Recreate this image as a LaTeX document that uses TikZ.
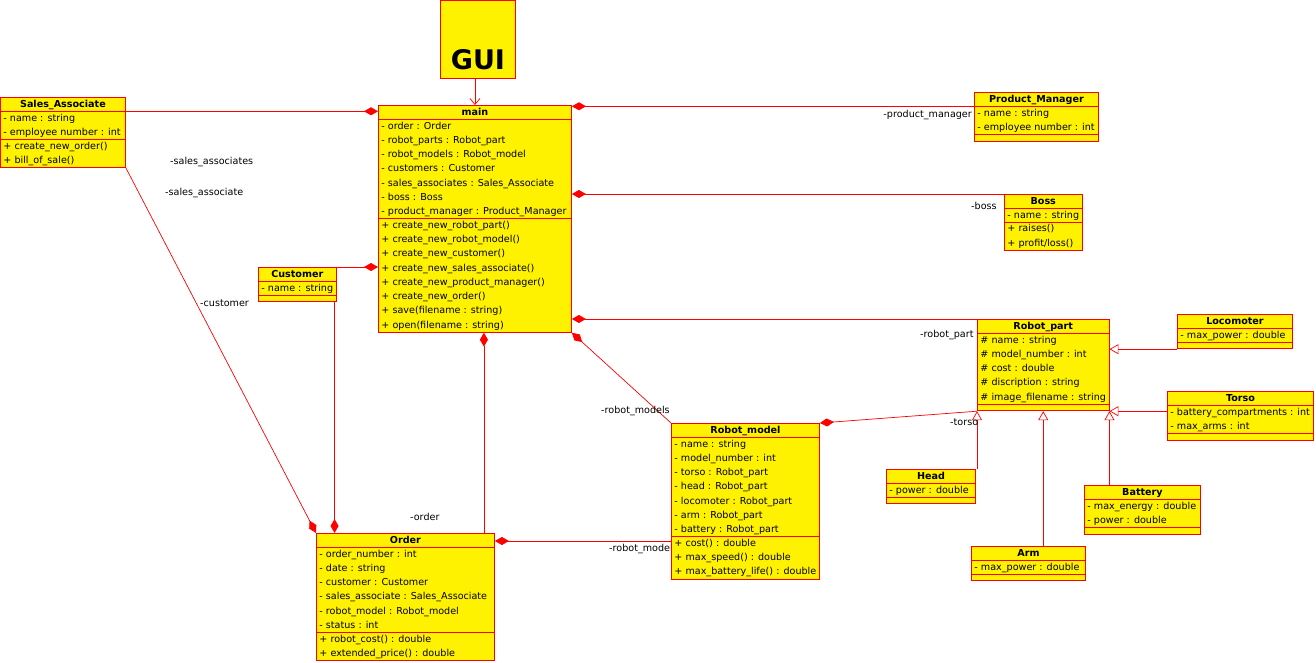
\documentclass[tikz,border=0pt]{standalone}
\usepackage{fontspec}
\setmainfont{DejaVu Sans}
\usetikzlibrary{shapes.multipart,arrows.meta,backgrounds}
\tikzset{
 umlclass/.style={rectangle split, rectangle split parts=3, draw=red, fill=yellow, line width=0.9pt,
   anchor=north west, inner xsep=3pt, inner ysep=-0.65pt, align=left,
   rectangle split part align={center,left,left}, font=\fontsize{9.6}{14.25}\selectfont},
 comp/.style={red, line width=0.7pt, {Diamond[length=14pt,width=8pt]}-},
 gen/.style={red, line width=0.7pt, -{Triangle[open,length=9pt,width=10pt,fill=white]}},
 lbl/.style={font=\fontsize{9.6}{12}\selectfont, inner sep=0pt, anchor=base west},
}
\begin{document}
\begin{tikzpicture}[x=1pt,y=-1pt]
\useasboundingbox (0,0) rectangle (1316,662);
%gui
\node[draw=red, fill=yellow, line width=0.9pt, anchor=north west, inner sep=0pt, minimum width=75pt,
  text height=69pt, text depth=9pt, font=\fontsize{27}{30}\selectfont\bfseries] (gui) at (440,0) {GUI};
%classes
\node[umlclass, minimum width=193pt] (main) at (378,105) {\strut\textbf{main}
 \nodepart{two}\strut- order : Order\\\strut- robot\_parts : Robot\_part\\\strut- robot\_models : Robot\_model\\
 \strut- customers : Customer\\\strut- sales\_associates : Sales\_Associate\\\strut- boss : Boss\\
 \strut- product\_manager : Product\_Manager
 \nodepart{three}\strut+ create\_new\_robot\_part()\\\strut+ create\_new\_robot\_model()\\
 \strut+ create\_new\_customer()\\\strut+ create\_new\_sales\_associate()\\\strut+ create\_new\_product\_manager()\\
 \strut+ create\_new\_order()\\\strut+ save(filename : string)\\\strut+ open(filename : string)};
\node[umlclass, minimum width=125pt] (sa) at (0,97) {\strut\textbf{Sales\_Associate}
 \nodepart{two}\strut- name : string\\\strut- employee number : int
 \nodepart{three}\strut+ create\_new\_order()\\\strut+ bill\_of\_sale()};
\node[umlclass, minimum width=124pt] (pm) at (974,92) {\strut\textbf{Product\_Manager}
 \nodepart{two}\strut- name : string\\\strut- employee number : int
 \nodepart{three}\rule{0pt}{7pt}};
\node[umlclass, minimum width=77pt] (boss) at (1004,194) {\strut\textbf{Boss}
 \nodepart{two}\strut- name : string
 \nodepart{three}\strut+ raises()\\\strut+ profit/loss()};
\node[umlclass, minimum width=76pt] (cust) at (258,267) {\strut\textbf{Customer}
 \nodepart{two}\strut- name : string
 \nodepart{three}\rule{0pt}{7pt}};
\node[umlclass, minimum width=130pt] (rp) at (977,319) {\strut\textbf{Robot\_part}
 \nodepart{two}\strut\# name : string\\\strut\# model\_number : int\\\strut\# cost : double\\
 \strut\# discription : string\\\strut\# image\_filename : string
 \nodepart{three}\rule{0pt}{7pt}};
\node[umlclass, minimum width=115pt] (loco) at (1177,314) {\strut\textbf{Locomoter}
 \nodepart{two}\strut- max\_power : double
 \nodepart{three}\rule{0pt}{7pt}};
\node[umlclass, minimum width=146pt] (torso) at (1167,391) {\strut\textbf{Torso}
 \nodepart{two}\strut- battery\_compartments : int\\\strut- max\_arms : int
 \nodepart{three}\rule{0pt}{7pt}};
\node[umlclass, minimum width=89pt] (head) at (886,469) {\strut\textbf{Head}
 \nodepart{two}\strut- power : double
 \nodepart{three}\rule{0pt}{7pt}};
\node[umlclass, minimum width=116pt] (bat) at (1084,485) {\strut\textbf{Battery}
 \nodepart{two}\strut- max\_energy : double\\\strut- power : double
 \nodepart{three}\rule{0pt}{7pt}};
\node[umlclass, minimum width=114pt] (arm) at (971,546) {\strut\textbf{Arm}
 \nodepart{two}\strut- max\_power : double
 \nodepart{three}\rule{0pt}{7pt}};
\node[umlclass, minimum width=148pt] (rm) at (671,423) {\strut\textbf{Robot\_model}
 \nodepart{two}\strut- name : string\\\strut- model\_number : int\\\strut- torso : Robot\_part\\
 \strut- head : Robot\_part\\\strut- locomoter : Robot\_part\\\strut- arm : Robot\_part\\\strut- battery : Robot\_part
 \nodepart{three}\strut+ cost() : double\\\strut+ max\_speed() : double\\\strut+ max\_battery\_life() : double};
\node[umlclass, minimum width=178pt] (order) at (316,533) {\strut\textbf{Order}
 \nodepart{two}\strut- order\_number : int\\\strut- date : string\\\strut- customer : Customer\\
 \strut- sales\_associate : Sales\_Associate\\\strut- robot\_model : Robot\_model\\\strut- status : int
 \nodepart{three}\strut+ robot\_cost() : double\\\strut+ extended\_price() : double};
\begin{scope}[on background layer]
%gui arrow
\draw[red, line width=0.7pt, -{Straight Barb[length=6pt,width=10pt]}] (main.north |- gui.south) -- (main.north);
%compositions
\draw[comp] (main.west |- sa.one split east) -- (sa.one split east);
\draw[comp] (main.east |- pm.one split west) -- (pm.one split west);
\draw[comp] (main.east |- boss.north west) -- (boss.north west);
\draw[comp] (main.east |- rp.north west) -- (rp.north west);
\draw[comp] (main.west |- cust.north east) -- (cust.north east);
\draw[comp] ([xshift=-11pt]order.north east |- main.south) -- ([xshift=-11pt]order.north east);
\draw[comp] (main.south east) -- (rm.north west);
\draw[comp] (rm.north east) -- (rp.south west);
\draw[comp] ([yshift=-8pt]order.north east) -- ([yshift=-8pt]order.north east -| rm.west);
\draw[comp] (order.north west) -- (sa.south east);
\draw[comp] ([xshift=-2pt]cust.south east |- order.north) -- ([xshift=-2pt]cust.south east);
%generalizations
\draw[gen] (loco.south west) -- (loco.south west -| rp.east);
\draw[gen] (torso.west |- rp.south east) -- (rp.south east);
\draw[gen] (rp.south east |- bat.north) -- (rp.south east);
\draw[gen] (rp.south |- arm.north) -- (rp.south);
\draw[gen] (rp.south west |- head.north) -- (rp.south west);
%roles
\node[lbl] (lsas) at (170,164) {-sales\_associates};
\node[lbl] (lsa) at (165,195) {-sales\_associate};
\node[lbl] (lcust) at (200,306) {-customer};
\node[lbl, anchor=base east] (lpm) at (972,117) {-product\_manager};
\node[lbl] (lboss) at (971,209) {-boss};
\node[lbl] (lrp) at (920,337) {-robot\_part};
\node[lbl] (ltorso) at (950,425) {-torso};
\node[lbl] (lrms) at (601,413) {-robot\_models};
\node[lbl] (lrm) at (609,551) {-robot\_model};
\node[lbl] (lorder) at (410,520) {-order};
\end{scope}
\end{tikzpicture}
\end{document}
